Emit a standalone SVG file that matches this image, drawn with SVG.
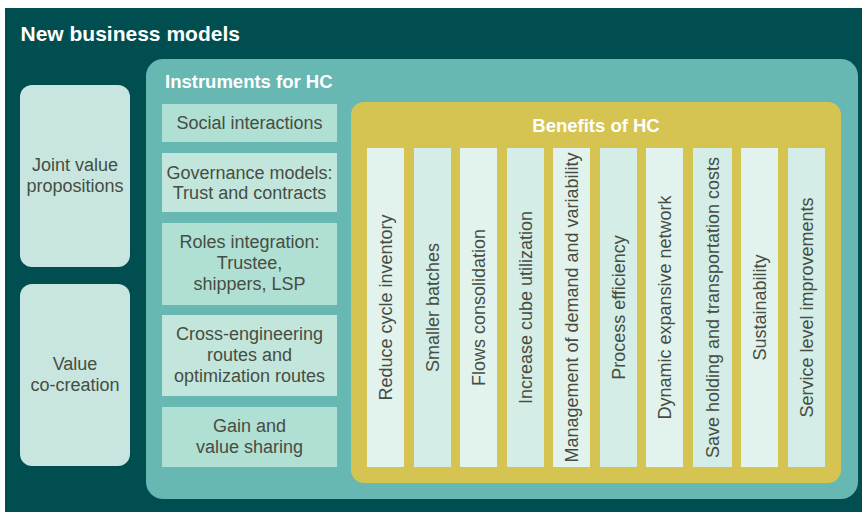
<svg xmlns="http://www.w3.org/2000/svg" width="862" height="512" viewBox="0 0 862 512">
<style>
text{font-family:"Liberation Sans",Arial,Helvetica,sans-serif}
.title{font-size:21px;font-weight:bold;fill:#ffffff}
.head{font-size:18.5px;font-weight:bold;fill:#ffffff}
.lbl{font-size:18px;fill:#474d43;text-anchor:middle}
.lbox{fill:#c8e6df}
.ia{fill:#b0dfd4}
.ib{fill:#c2e6dc}
.ca{fill:#e2f3ee}
.cb{fill:#d4ede6}
</style>
<rect x="0" y="0" width="862" height="512" fill="#ffffff"/>
<g id="new-business-models">
<rect x="5" y="8" width="857" height="504" fill="#004e4f"/>
<text class="title" x="20.5" y="41">New business models</text>
</g>
<g id="joint-value-propositions">
<rect class="lbox" x="20" y="85" width="110" height="182" rx="12"/>
<text class="lbl" x="75" y="171">Joint value</text>
<text class="lbl" x="75" y="192">propositions</text>
</g>
<g id="value-co-creation">
<rect class="lbox" x="20" y="284" width="110" height="182" rx="12"/>
<text class="lbl" x="75" y="370">Value</text>
<text class="lbl" x="75" y="391">co-creation</text>
</g>
<g id="instruments-for-hc">
<rect x="146" y="59" width="712" height="440" rx="17" fill="#67b7b3"/>
<text class="head" x="165" y="88">Instruments for HC</text>
</g>
<g id="social-interactions">
<rect class="ia" x="162" y="104" width="175" height="38"/>
<text class="lbl" x="249.5" y="128.5">Social interactions</text>
</g>
<g id="governance-models">
<rect class="ib" x="162" y="153" width="175" height="59"/>
<text class="lbl" x="249.5" y="178.5">Governance models:</text>
<text class="lbl" x="249.5" y="198.5">Trust and contracts</text>
</g>
<g id="roles-integration">
<rect class="ia" x="162" y="223" width="175" height="82"/>
<text class="lbl" x="249.5" y="247.5">Roles integration:</text>
<text class="lbl" x="249.5" y="268.5">Trustee,</text>
<text class="lbl" x="249.5" y="289.5">shippers, LSP</text>
</g>
<g id="cross-engineering">
<rect class="ib" x="162" y="315" width="175" height="81"/>
<text class="lbl" x="249.5" y="340">Cross-engineering</text>
<text class="lbl" x="249.5" y="361">routes and</text>
<text class="lbl" x="249.5" y="382">optimization routes</text>
</g>
<g id="gain-and-value-sharing">
<rect class="ia" x="162" y="407" width="175" height="60"/>
<text class="lbl" x="249.5" y="432">Gain and</text>
<text class="lbl" x="249.5" y="452.5">value sharing</text>
</g>
<g id="benefits-of-hc">
<rect x="351" y="102" width="490" height="381" rx="13" fill="#d6c452"/>
<text class="head" x="596" y="132" text-anchor="middle">Benefits of HC</text>
</g>
<g id="reduce-cycle-inventory">
<rect class="ca" x="367" y="148" width="37" height="319"/>
<text class="lbl" transform="translate(392,307.5) rotate(-90)">Reduce cycle inventory</text>
</g>
<g id="smaller-batches">
<rect class="cb" x="414" y="148" width="37" height="319"/>
<text class="lbl" transform="translate(439,307.5) rotate(-90)">Smaller batches</text>
</g>
<g id="flows-consolidation">
<rect class="ca" x="460" y="148" width="37" height="319"/>
<text class="lbl" transform="translate(485,307.5) rotate(-90)">Flows consolidation</text>
</g>
<g id="increase-cube-utilization">
<rect class="cb" x="507" y="148" width="37" height="319"/>
<text class="lbl" transform="translate(532,307.5) rotate(-90)">Increase cube utilization</text>
</g>
<g id="management-of-demand">
<rect class="ca" x="553" y="148" width="37" height="319"/>
<text class="lbl" transform="translate(578,307.5) rotate(-90)">Management of demand and variability</text>
</g>
<g id="process-efficiency">
<rect class="cb" x="600" y="148" width="37" height="319"/>
<text class="lbl" transform="translate(625,307.5) rotate(-90)">Process efficiency</text>
</g>
<g id="dynamic-expansive-network">
<rect class="ca" x="646" y="148" width="37" height="319"/>
<text class="lbl" transform="translate(671,307.5) rotate(-90)">Dynamic expansive network</text>
</g>
<g id="save-holding-costs">
<rect class="cb" x="693" y="148" width="39" height="319"/>
<text class="lbl" transform="translate(719,307.5) rotate(-90)">Save holding and transportation costs</text>
</g>
<g id="sustainability">
<rect class="ca" x="741" y="148" width="37" height="319"/>
<text class="lbl" transform="translate(766,307.5) rotate(-90)">Sustainability</text>
</g>
<g id="service-level-improvements">
<rect class="cb" x="788" y="148" width="37" height="319"/>
<text class="lbl" transform="translate(813,307.5) rotate(-90)">Service level improvements</text>
</g>
</svg>
